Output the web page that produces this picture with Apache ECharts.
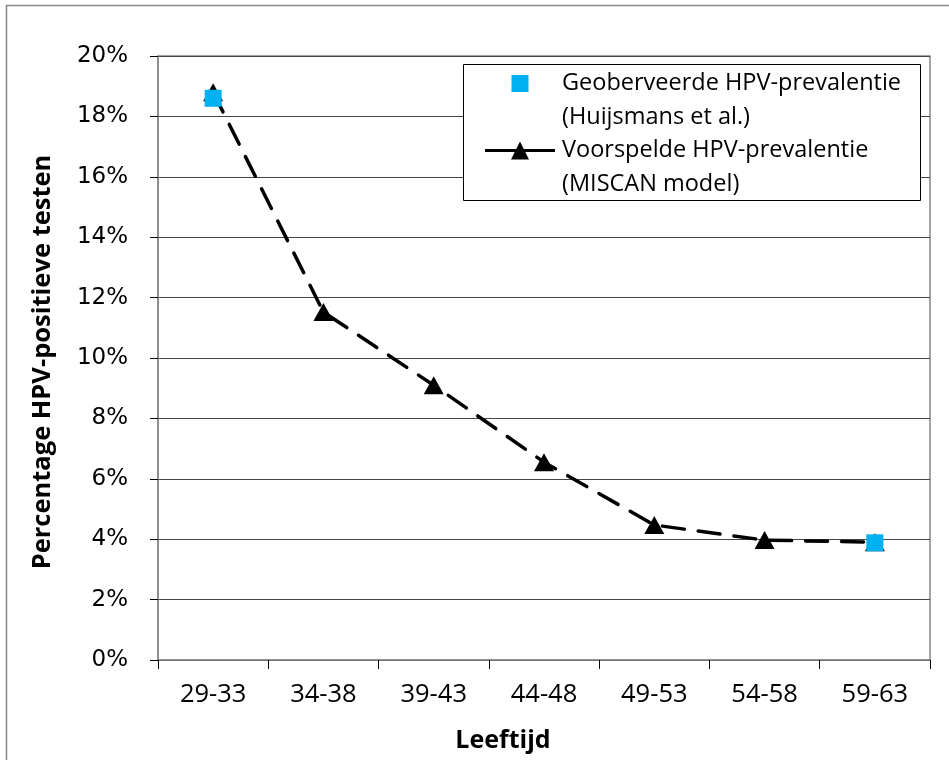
<!DOCTYPE html>
<html><head><meta charset="utf-8">
<script src="https://cdn.jsdelivr.net/npm/echarts@6/dist/echarts.min.js"></script>
<style>html,body{margin:0;padding:0;background:#fff}#c{width:949px;height:760px}</style>
</head><body><div id="c"></div>
<script>
var categories = ['29-33','34-38','39-43','44-48','49-53','54-58','59-63'];
var observed = [18.6, null, null, null, null, null, 3.88];
var predicted = [18.8, 11.52, 9.1, 6.55, 4.47, 3.97, 3.9];
var yTicks = {min: 0, max: 20, interval: 2};
var nameObs = 'Geoberveerde HPV-prevalentie\n(Huijsmans et al.)';
var namePred = 'Voorspelde HPV-prevalentie\n(MISCAN model)';

var font = "'Open Sans',sans-serif";
// legend icons: 70 x 53 box, shape centred on the first text line (y = 9.5)
var squareIcon = 'path://M0,0h0.01v0.01h-0.01z M26.5,1h17v17h-17z M69.99,52.99h0.01v0.01h-0.01z';
var lineIcon = 'path://M0,0h0.01v0.01h-0.01z M0,8H70V11H0Z M26,18.5L35,0.5L44,18.5Z M69.99,52.99h0.01v0.01h-0.01z';
var chart = echarts.init(document.getElementById('c'));
chart.setOption({
  animation: false,
  backgroundColor: '#fff',
  graphic: [
    {type: 'rect', shape: {x: 6.5, y: 5.5, width: 960, height: 800}, style: {fill: 'none', stroke: '#888', lineWidth: 1.5}, z: -1},
    {type: 'rect', shape: {x: 463.5, y: 64.5, width: 457, height: 136}, style: {fill: '#fff', stroke: '#000', lineWidth: 1}, z: 5}
  ],
  grid: {left: 158, right: 19, top: 56, bottom: 100, show: true, borderColor: '#888', borderWidth: 1.5, backgroundColor: 'transparent'},
  legend: {
    orient: 'vertical', left: 485, top: 66.5, z: 6,
    padding: 0, itemGap: -1, itemWidth: 70, itemHeight: 53,
    textStyle: {fontFamily: font, fontSize: 23.5, color: '#000', lineHeight: 34, padding: [0, 0, 0, 2]},
    data: [
      {name: nameObs, icon: squareIcon, itemStyle: {color: '#00B0F0', opacity: 1}},
      {name: namePred, icon: lineIcon, itemStyle: {color: '#000', opacity: 1}}
    ]
  },
  xAxis: {
    type: 'category', data: categories, boundaryGap: true,
    axisLine: {lineStyle: {color: '#888', width: 1.5}},
    axisTick: {show: true, length: 9, lineStyle: {color: '#000'}, alignWithLabel: false},
    axisLabel: {fontFamily: font, fontSize: 25.5, color: '#000', margin: 22},
    name: 'Leeftijd', nameLocation: 'middle', nameGap: 68,
    nameTextStyle: {fontFamily: font, fontSize: 25, fontWeight: 'bold', color: '#000', padding: [0, 82, 0, 0]}
  },
  yAxis: {
    type: 'value', min: yTicks.min, max: yTicks.max, interval: yTicks.interval,
    axisLine: {show: true, lineStyle: {color: '#888', width: 1.5}},
    axisTick: {show: true, length: 8, lineStyle: {color: '#000'}},
    splitLine: {lineStyle: {color: '#444', width: 1}},
    axisLabel: {fontFamily: "'DejaVu Sans',sans-serif", fontSize: 23, color: '#000', margin: 30, formatter: '{value}%'},
    name: 'Percentage HPV-positieve testen', nameLocation: 'middle', nameGap: 102, nameRotate: 90,
    nameTextStyle: {fontFamily: font, fontSize: 25.5, fontWeight: 'bold', color: '#000', padding: [0, 8, 0, 0]}
  },
  series: [
    {
      name: namePred, type: 'line', data: predicted, z: 3,
      symbol: 'triangle', symbolSize: [20, 18],
      itemStyle: {color: '#000'},
      lineStyle: {color: '#000', width: 3.5, type: [22, 14], cap: 'round'}
    },
    {
      name: nameObs, type: 'scatter', data: observed, z: 4,
      symbol: 'rect', symbolSize: 17,
      itemStyle: {color: '#00B0F0', opacity: 1}
    }
  ]
});
</script></body></html>
